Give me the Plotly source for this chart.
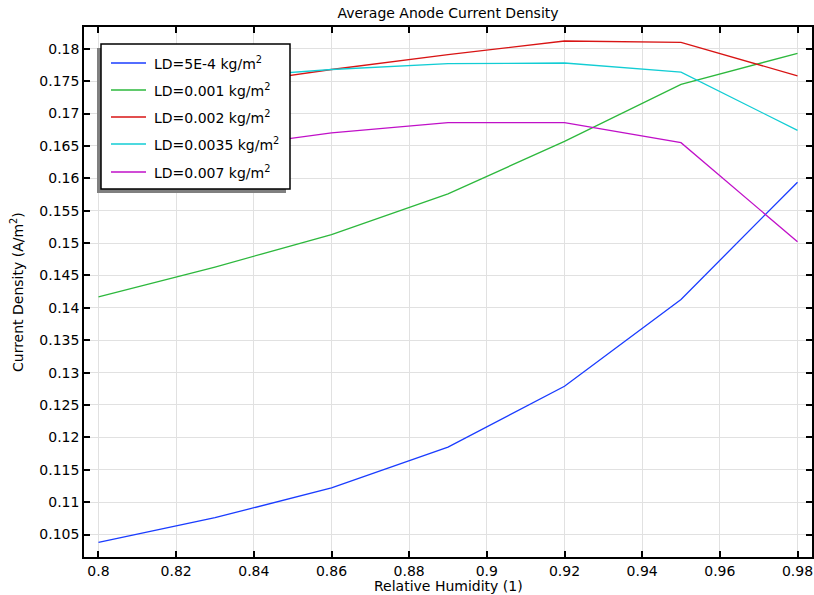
import plotly.graph_objects as go

rh = [0.8, 0.83, 0.86, 0.89, 0.92, 0.95, 0.98]
ld_5e4 = [0.1038, 0.1076, 0.1122, 0.1185, 0.1279, 0.1413, 0.1594]
ld_001 = [0.1417, 0.1463, 0.1513, 0.1576, 0.1657, 0.1745, 0.1793]
ld_002 = [0.1712, 0.1742, 0.1768, 0.1791, 0.1812, 0.1810, 0.1758]
ld_0035 = [0.1742, 0.1755, 0.1768, 0.1777, 0.1778, 0.1764, 0.1674]
ld_007 = [0.1628, 0.1646, 0.1670, 0.1686, 0.1686, 0.1655, 0.1502]

names = ["LD=5E-4 kg/m<sup>2</sup>", "LD=0.001 kg/m<sup>2</sup>", "LD=0.002 kg/m<sup>2</sup>",
         "LD=0.0035 kg/m<sup>2</sup>", "LD=0.007 kg/m<sup>2</sup>"]
colors = ["#1a3cff", "#2db83d", "#d81414", "#12cdd4", "#c010c8"]
series = [ld_5e4, ld_001, ld_002, ld_0035, ld_007]

x_ticks = [0.8, 0.82, 0.84, 0.86, 0.88, 0.9, 0.92, 0.94, 0.96, 0.98]
x_tick_labels = ["0.8", "0.82", "0.84", "0.86", "0.88", "0.9", "0.92", "0.94", "0.96", "0.98"]
y_ticks = [0.105, 0.11, 0.115, 0.12, 0.125, 0.13, 0.135, 0.14, 0.145, 0.15, 0.155, 0.16,
           0.165, 0.17, 0.175, 0.18]
y_tick_labels = ["0.105", "0.11", "0.115", "0.12", "0.125", "0.13", "0.135", "0.14", "0.145",
                 "0.15", "0.155", "0.16", "0.165", "0.17", "0.175", "0.18"]

W, H = 814, 595
ML, MR, MT, MB = 84, 2, 27, 38
FONT = "DejaVu Sans"
FS = 14

fig = go.Figure()
for nm, col, ys in zip(names, colors, series):
    fig.add_trace(go.Scatter(x=rh, y=ys, mode="lines", name=nm,
                             line=dict(color=col, width=1.3), showlegend=False))

def px(xp):
    return (xp - ML) / (W - ML - MR)

def py(yp):
    return (H - MB - yp) / (H - MT - MB)

shapes = []
annotations = []
# legend shadow and box
shapes.append(dict(type="rect", xref="paper", yref="paper", x0=px(97), x1=px(286),
                   y0=py(193), y1=py(48), fillcolor="#808080", line=dict(width=0), layer="above"))
shapes.append(dict(type="rect", xref="paper", yref="paper", x0=px(101), x1=px(290),
                   y0=py(189), y1=py(44), fillcolor="white", line=dict(color="black", width=1.5),
                   layer="above"))
row_y = [63, 90, 117, 144, 172]
for nm, col, ry in zip(names, colors, row_y):
    shapes.append(dict(type="line", xref="paper", yref="paper", x0=px(111), x1=px(146),
                       y0=py(ry), y1=py(ry), line=dict(color=col, width=1.3), layer="above"))
    annotations.append(dict(text=nm, xref="paper", yref="paper", x=px(152), y=py(ry),
                            xanchor="left", yanchor="middle", showarrow=False,
                            font=dict(family=FONT, size=FS, color="black")))

annotations.append(dict(text="Relative Humidity (1)", xref="paper", yref="paper",
                        x=px(448), y=py(586), xanchor="center", yanchor="middle",
                        showarrow=False, font=dict(family=FONT, size=FS, color="black")))
annotations.append(dict(text="Current Density (A/m<sup>2</sup>)", xref="paper", yref="paper",
                        x=px(17), y=py(292), xanchor="center", yanchor="middle", textangle=-90,
                        showarrow=False, font=dict(family=FONT, size=FS, color="black")))

fig.update_layout(
    width=W, height=H,
    margin=dict(l=ML, r=MR, t=MT, b=MB, pad=0, autoexpand=False),
    paper_bgcolor="white", plot_bgcolor="white",
    font=dict(family=FONT, size=FS, color="black"),
    title=dict(text="Average Anode Current Density", x=448 / W, xanchor="center",
               y=1 - 13 / H, yanchor="middle", font=dict(family=FONT, size=FS)),
    xaxis=dict(range=[0.79627, 0.98373], tickvals=x_ticks, ticktext=x_tick_labels,
               showgrid=True, gridcolor="#e1e1e1", gridwidth=1, automargin=False,
               showline=True, linecolor="black", linewidth=1.5, mirror="allticks",
               ticks="inside", ticklen=6, tickcolor="black", tickwidth=1.5,
               zeroline=False, tickfont=dict(family=FONT, size=FS)),
    yaxis=dict(range=[0.10153, 0.18336], tickvals=y_ticks, ticktext=y_tick_labels,
               showgrid=True, gridcolor="#e1e1e1", gridwidth=1, automargin=False,
               showline=True, linecolor="black", linewidth=1.5, mirror="allticks",
               ticks="inside", ticklen=6, tickcolor="black", tickwidth=1.5,
               zeroline=False, tickfont=dict(family=FONT, size=FS)),
    shapes=shapes, annotations=annotations,
    showlegend=False,
)

fig.write_html("out.html", config={"displayModeBar": False},
               post_script="document.body.style.margin='0';document.body.style.padding='0';")
